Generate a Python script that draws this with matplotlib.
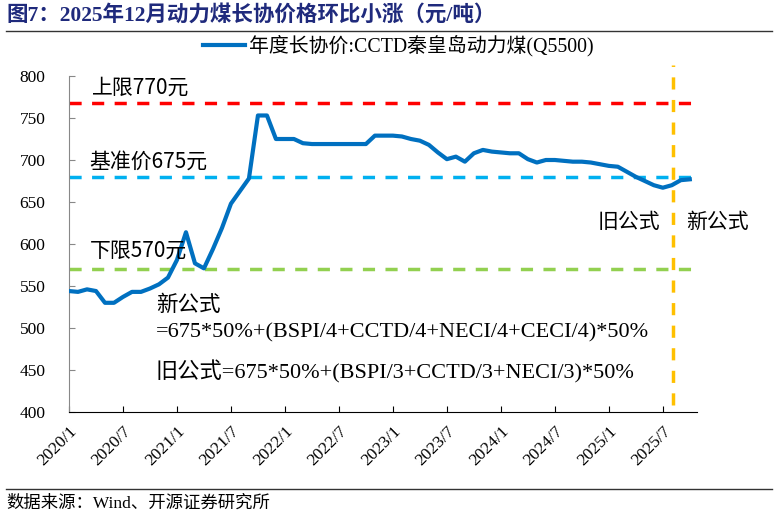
import matplotlib
matplotlib.use('Agg')
import matplotlib.pyplot as plt
from matplotlib.lines import Line2D
import numpy as np
import pandas as pd

plt.rcParams['font.family'] = ['Liberation Serif', 'Noto Sans CJK SC']
plt.rcParams['axes.unicode_minus'] = False

# 年度长协价:CCTD秦皇岛动力煤(Q5500)，月度，2020/1 起
months = pd.period_range('2020-01', periods=70, freq='M')
price = [544, 543, 546, 544, 530, 530, 537, 543, 543, 547, 552, 560,
         581, 614, 577, 571, 594, 619, 648, 663, 678, 753, 753, 725,
         725, 725, 720, 719, 719, 719, 719, 719, 719, 719, 729, 729,
         729, 728, 725, 723, 718, 709, 701, 704, 698, 708, 712, 710,
         709, 708, 708, 701, 697, 700, 700, 699, 698, 698, 697, 695,
         693, 692, 686, 680, 675, 670, 667, 670, 676, 677]
upper, base, lower = 768, 680, 570
switch_month = 67.1   # 新旧公式分界
tick_idx = list(range(0, 70, 6))
tick_labels = ['2020/1', '2020/7', '2021/1', '2021/7', '2022/1', '2022/7',
               '2023/1', '2023/7', '2024/1', '2024/7', '2025/1', '2025/7']

W, H = 774, 518
fig = plt.figure(figsize=(W / 100, H / 100), dpi=100)
ax = fig.add_axes([69 / W, 1 - 412 / H, 628 / W, 336 / H])

x = np.arange(len(price))
ax.plot(x, price, color='#0070C0', lw=3, solid_joinstyle='round',
        label='年度长协价:CCTD秦皇岛动力煤(Q5500)', zorder=3)
dash = (0, (3.5, 3))
ax.axhline(upper, color='#FF0000', lw=2.5, ls=dash, zorder=2)
ax.axhline(base, color='#00B0F0', lw=2.5, ls=dash, zorder=2)
ax.axhline(lower, color='#92D050', lw=2.5, ls=dash, zorder=2)
ax.plot([switch_month, switch_month], [408, 813], color='#FFC000', lw=2.5,
        ls=dash, zorder=2, clip_on=False)

ax.set_xlim(0, 69.8)
ax.set_ylim(400, 800)
ax.set_yticks(range(400, 801, 50))
ax.set_xticks(tick_idx)
ax.set_xticklabels(tick_labels, rotation=45, ha='right', va='top',
                   rotation_mode='anchor')
ax.tick_params(axis='both', direction='in', labelsize=12.5, length=4)
ax.tick_params(axis='x', pad=8)
ax.tick_params(axis='y', pad=17, colors='#888888', labelcolor='black')
for s in ['top', 'right']:
    ax.spines[s].set_visible(False)
ax.spines['left'].set_color('#888888')
ax.spines['bottom'].set_color('black')

cjk = ['Noto Sans CJK SC', 'Liberation Sans']
ax.text(0.036, 0.964, '上限770元', transform=ax.transAxes, fontsize=15,
        va='center', family=cjk)
ax.text(0.033, 0.744, '基准价675元', transform=ax.transAxes, fontsize=15,
        va='center', family=cjk)
ax.text(0.033, 0.479, '下限570元', transform=ax.transAxes, fontsize=15,
        va='center', family=cjk)
ax.text(0.1385, 0.318, '新公式', transform=ax.transAxes, fontsize=15.5,
        va='center', family=cjk)
ax.text(0.1385, 0.235, '=675*50%+(BSPI/4+CCTD/4+NECI/4+CECI/4)*50%',
        transform=ax.transAxes, fontsize=16, va='center')
ax.text(0.1385, 0.119, '旧公式=675*50%+(BSPI/3+CCTD/3+NECI/3)*50%',
        transform=ax.transAxes, fontsize=16, va='center')
ax.text(0.841, 0.565, '旧公式', transform=ax.transAxes, fontsize=15,
        va='center', family=cjk)
ax.text(0.982, 0.565, '新公式', transform=ax.transAxes, fontsize=15,
        va='center', family=cjk, clip_on=False)

fig.legend(loc='center', bbox_to_anchor=(398 / W, 1 - 46 / H), frameon=False,
           fontsize=14.3, handlelength=2.1, handletextpad=0.2)

fig.text(6 / W, 1 - 15 / H, '图7：2025年12月动力煤长协价格环比小涨（元/吨）',
         fontsize=15.5, weight='bold', color='#1F2A7C', va='center')
fig.add_artist(Line2D([6 / W, 0.997], [1 - 31 / H, 1 - 31 / H],
                      color='#333333', lw=1))
fig.add_artist(Line2D([6 / W, 0.997], [1 - 489 / H, 1 - 489 / H],
                      color='#333333', lw=1))
fig.text(6 / W, 1 - 504 / H, '数据来源：Wind、开源证券研究所', fontsize=12.5,
         va='center')

fig.savefig('out.png', dpi=100)
